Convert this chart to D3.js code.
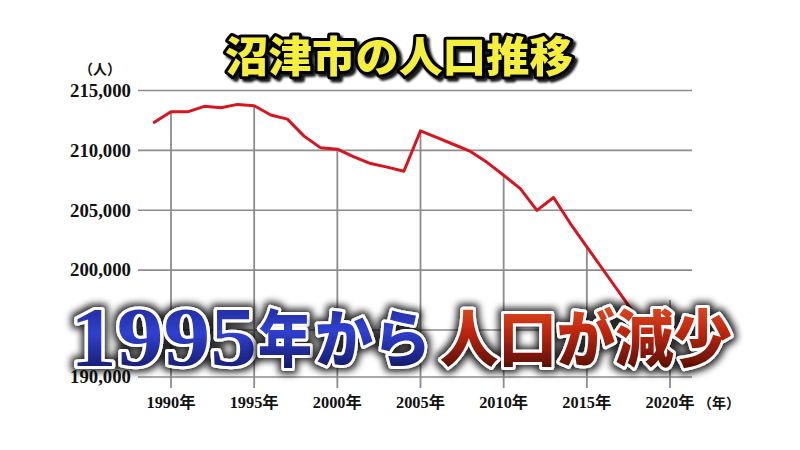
<!DOCTYPE html>
<html>
<head>
<meta charset="utf-8">
<script src="https://cdn.jsdelivr.net/npm/d3@7"></script>
<style>
  html, body { margin: 0; padding: 0; background: #ffffff; }
  svg { display: block; }
</style>
</head>
<body>
<div id="chart"></div>
<script>
// ---- data ----
const years = [1989, 1990, 1991, 1992, 1993, 1994, 1995, 1996, 1997, 1998, 1999,
               2000, 2001, 2002, 2003, 2004, 2005, 2006, 2007, 2008, 2009,
               2010, 2011, 2012, 2013, 2014, 2015, 2016, 2017, 2018];
const population = [212340, 213220, 213220, 213680, 213560, 213840, 213730, 212950, 212610, 211190, 210210,
                    210100, 209460, 208900, 208600, 208260, 211630, 211070, 210490, 209910, 209000,
                    207920, 206810, 204990, 206060, 203910, 201950, 199990, 198030, 196070];
const xTickYears = [1990, 1995, 2000, 2005, 2010, 2015, 2020];
const xTickLabels = ["1990年", "1995年", "2000年", "2005年", "2010年", "2015年", "2020年"];
const yGridValues = [190000, 195000, 200000, 205000, 210000, 215000];
const yTickValues = [190000, 200000, 205000, 210000, 215000];
const yTickLabels = ["190,000", "200,000", "205,000", "210,000", "215,000"];
const titleText = "沼津市の人口推移";
const yUnit = "（人）";
const xUnit = "（年）";
const overlayBlue = ["1995", "年", "から"];
const overlayRed = ["人口が減少"];

// ---- drawing ----
const W = 800, H = 450;
const svg = d3.select("#chart").append("svg").attr("width", W).attr("height", H);
svg.append("rect").attr("width", W).attr("height", H).attr("fill", "#ffffff");

const x = d3.scaleLinear().domain([1990, 2020]).range([171, 670]);
const y = d3.scaleLinear().domain([190000, 195000, 215000]).range([377, 330, 90.5]);
const gridLeft = 138, gridRight = 692, dropBottom = 388;

const defs = svg.append("defs");
const gBlue = defs.append("linearGradient").attr("id", "gBlue").attr("x1", 0).attr("y1", 0).attr("x2", 0).attr("y2", 1);
gBlue.append("stop").attr("offset", "0%").attr("stop-color", "#1a2080");
gBlue.append("stop").attr("offset", "45%").attr("stop-color", "#3040d0");
gBlue.append("stop").attr("offset", "100%").attr("stop-color", "#0b0f4a");
const gRed = defs.append("linearGradient").attr("id", "gRed").attr("x1", 0).attr("y1", 0).attr("x2", 0).attr("y2", 1);
gRed.append("stop").attr("offset", "0%").attr("stop-color", "#f0602a");
gRed.append("stop").attr("offset", "45%").attr("stop-color", "#c02810");
gRed.append("stop").attr("offset", "100%").attr("stop-color", "#3a0600");

// dark glow behind caption
const glow = defs.append("filter").attr("id", "glow").attr("x", "-20%").attr("y", "-50%").attr("width", "140%").attr("height", "200%");
glow.append("feMorphology").attr("in", "SourceAlpha").attr("operator", "dilate").attr("radius", 3).attr("result", "dil");
glow.append("feGaussianBlur").attr("in", "dil").attr("stdDeviation", 3.5).attr("result", "blur");
glow.append("feFlood").attr("flood-color", "#000").attr("flood-opacity", 0.85).attr("result", "col");
glow.append("feComposite").attr("in", "col").attr("in2", "blur").attr("operator", "in").attr("result", "shadow");
const gm = glow.append("feMerge");
gm.append("feMergeNode").attr("in", "shadow");
gm.append("feMergeNode").attr("in", "SourceGraphic");

// 3D-ish shadow for title
const tsh = defs.append("filter").attr("id", "tshadow").attr("x", "-10%").attr("y", "-40%").attr("width", "120%").attr("height", "180%");
tsh.append("feGaussianBlur").attr("in", "SourceAlpha").attr("stdDeviation", 1.2).attr("result", "b");
tsh.append("feOffset").attr("in", "b").attr("dx", 3).attr("dy", 3).attr("result", "o");
tsh.append("feFlood").attr("flood-color", "#1a1a1a").attr("result", "c");
tsh.append("feComposite").attr("in", "c").attr("in2", "o").attr("operator", "in").attr("result", "s");
const tm = tsh.append("feMerge");
tm.append("feMergeNode").attr("in", "s");
tm.append("feMergeNode").attr("in", "SourceGraphic");

// horizontal gridlines
svg.append("g").selectAll("line").data(yGridValues).join("line")
  .attr("x1", gridLeft).attr("x2", gridRight)
  .attr("y1", d => y(d)).attr("y2", d => y(d))
  .attr("stroke", "#8c8c8c").attr("stroke-width", 1.6);

// y labels
svg.append("g").selectAll("text").data(yTickValues).join("text")
  .attr("x", 131).attr("y", d => y(d)).attr("dy", "0.35em")
  .attr("text-anchor", "end")
  .attr("textLength", 61).attr("lengthAdjust", "spacingAndGlyphs")
  .attr("font-family", "'Liberation Serif', 'DejaVu Serif', serif")
  .attr("font-weight", "bold").attr("font-size", 18).attr("fill", "#111")
  .text((d, i) => yTickLabels[i]);
svg.append("text").attr("x", 100).attr("y", 74).attr("text-anchor", "middle")
  .attr("font-family", "'Noto Sans CJK JP', sans-serif").attr("font-weight", "bold")
  .attr("font-size", 14).attr("fill", "#111").text(yUnit);

// vertical drop lines from the data line to the bottom
const valueAt = yr => { const i = years.indexOf(yr); return i >= 0 ? population[i] : 197500; };
svg.append("g").selectAll("line").data(xTickYears).join("line")
  .attr("x1", d => x(d)).attr("x2", d => x(d))
  .attr("y1", d => y(valueAt(d))).attr("y2", dropBottom)
  .attr("stroke", "#8c8c8c").attr("stroke-width", 1.8);

// x labels
svg.append("g").selectAll("text").data(xTickYears).join("text")
  .attr("x", d => x(d)).attr("y", 408).attr("text-anchor", "middle")
  .attr("textLength", 49).attr("lengthAdjust", "spacingAndGlyphs")
  .attr("font-family", "'Liberation Serif', 'Noto Sans CJK JP', serif")
  .attr("font-weight", "bold").attr("font-size", 16).attr("fill", "#111")
  .text((d, i) => xTickLabels[i]);
svg.append("text").attr("x", 719).attr("y", 408).attr("text-anchor", "middle")
  .attr("font-family", "'Noto Sans CJK JP', sans-serif").attr("font-weight", "bold")
  .attr("font-size", 14).attr("fill", "#111").text(xUnit);

// population line
const line = d3.line().x((d, i) => x(years[i])).y(d => y(d));
svg.append("path").datum(population)
  .attr("d", line).attr("fill", "none")
  .attr("stroke", "#d8141e").attr("stroke-width", 3)
  .attr("stroke-linejoin", "round").attr("stroke-linecap", "round");

// title (single text: black outline under yellow fill, offset dark shadow)
svg.append("text").attr("x", 225).attr("y", 72)
  .attr("textLength", 348).attr("lengthAdjust", "spacingAndGlyphs")
  .attr("font-family", "'Noto Sans CJK JP', sans-serif").attr("font-weight", 900)
  .attr("font-size", 42)
  .attr("fill", "#f4ee3c").attr("stroke", "#000").attr("stroke-width", 6)
  .attr("stroke-linejoin", "round").attr("paint-order", "stroke")
  .attr("filter", "url(#tshadow)")
  .text(titleText);

// overlay caption (single text per segment: white outline, gradient fill, dark glow)
const segs = [
  { t: overlayBlue[0], x0: 70, w: 187, fam: "'Liberation Serif', serif", fs: 84, base: 366, grad: "gBlue" },
  { t: overlayBlue[1], x0: 258, w: 54, fam: "'Noto Sans CJK JP', sans-serif", fs: 62, base: 362, grad: "gBlue" },
  { t: overlayBlue[2], x0: 315, w: 116, fam: "'Noto Sans CJK JP', sans-serif", fs: 62, base: 362, grad: "gBlue" },
  { t: overlayRed[0], x0: 440, w: 292, fam: "'Noto Sans CJK JP', sans-serif", fs: 62, base: 362, grad: "gRed" }
];
svg.append("g").selectAll("text").data(segs).join("text")
  .attr("x", s => s.x0).attr("y", s => s.base)
  .attr("textLength", s => s.w).attr("lengthAdjust", "spacingAndGlyphs")
  .attr("font-family", s => s.fam).attr("font-weight", 900).attr("font-size", s => s.fs)
  .attr("fill", s => `url(#${s.grad})`)
  .attr("stroke", "#ffffff").attr("stroke-width", 6).attr("stroke-linejoin", "round")
  .attr("paint-order", "stroke")
  .attr("filter", "url(#glow)")
  .text(s => s.t);
</script>
</body>
</html>
